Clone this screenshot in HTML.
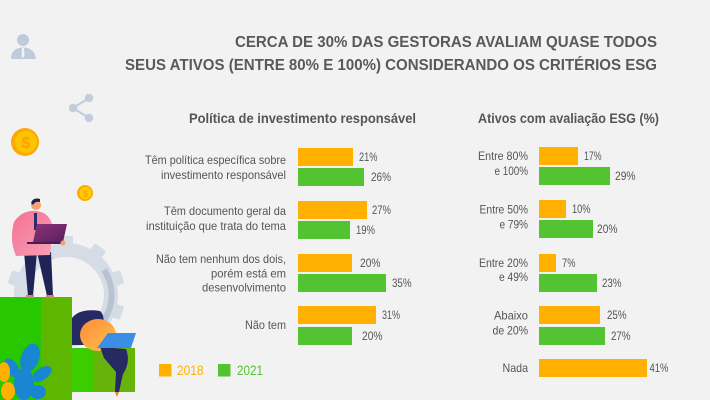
<!DOCTYPE html>
<html><head><meta charset="utf-8"><style>
html,body{margin:0;padding:0;background:#f2f2f2;}
svg{display:block;}
text{font-family:"Liberation Sans",sans-serif;fill:#555;}
.t{font-weight:bold;font-size:16px;fill:#595959;}
.s{font-weight:bold;font-size:14px;fill:#555;}
.l{font-size:12px;fill:#555;}
.p{font-size:11.5px;fill:#555;}
</style></head><body>
<svg width="710" height="400" viewBox="0 0 710 400" xmlns="http://www.w3.org/2000/svg">
<defs>
<linearGradient id="og" x1="0" y1="0" x2="1" y2="1"><stop offset="0" stop-color="#ff8a3c"/><stop offset="1" stop-color="#ffc34a"/></linearGradient>
<linearGradient id="pg" x1="0" y1="0" x2="1" y2="1"><stop offset="0" stop-color="#f56f94"/><stop offset="1" stop-color="#f8a0b4"/></linearGradient>
<linearGradient id="lg" x1="0" y1="0" x2="1" y2="1"><stop offset="0" stop-color="#8a3478"/><stop offset="1" stop-color="#5a1f5e"/></linearGradient>
</defs>
<rect width="710" height="400" fill="#f2f2f2"/>

<!-- icons -->
<g fill="#bfcbdb">
<circle cx="23" cy="40" r="6"/>
<path d="M11 59 Q11 48 23 47.5 Q35 48 36 59 Z"/>
</g>
<path d="M22 48 L24 48 L24.5 56 L23 58 L21.5 56 Z" fill="#f2f2f2"/>
<g stroke="#c2cddc" stroke-width="2" fill="#c2cddc">
<line x1="73" y1="108" x2="89" y2="98"/><line x1="73" y1="108" x2="89" y2="118"/>
<circle cx="89" cy="98" r="4.2" stroke="none"/><circle cx="73" cy="108" r="4.2" stroke="none"/><circle cx="89" cy="118" r="4.2" stroke="none"/>
</g>
<circle cx="25" cy="142" r="14" fill="#ffa800"/>
<circle cx="26" cy="142" r="11" fill="#ffc400"/>
<text x="26" y="148" text-anchor="middle" style="font-size:16px;font-weight:bold;fill:#ffa000">$</text>
<circle cx="85" cy="193" r="8" fill="#ffaa00"/>
<circle cx="85.5" cy="193" r="6" fill="#ffcc00"/>
<text x="85.5" y="197" text-anchor="middle" style="font-size:9px;font-weight:bold;fill:#ffa000">$</text>

<!-- gear -->
<g fill="#d5dce5">
<circle cx="66" cy="295" r="45" fill="none" stroke="#d5dce5" stroke-width="14"/>
<g transform="translate(66 295)">
<rect x="-7" y="-59" width="14" height="12" rx="2"/>
<rect x="-7" y="-59" width="14" height="12" rx="2" transform="rotate(36)"/>
<rect x="-7" y="-59" width="14" height="12" rx="2" transform="rotate(72)"/>
<rect x="-7" y="-59" width="14" height="12" rx="2" transform="rotate(108)"/>
<rect x="-7" y="-59" width="14" height="12" rx="2" transform="rotate(-36)"/>
<rect x="-7" y="-59" width="14" height="12" rx="2" transform="rotate(-72)"/>
<rect x="-7" y="-59" width="14" height="12" rx="2" transform="rotate(-108)"/>
</g>
</g>
<path d="M104 270 A45 45 0 0 1 104 320" fill="none" stroke="#b8c3d0" stroke-width="6"/>

<!-- big block -->
<rect x="0" y="297" width="41" height="103" fill="#27c800"/>
<rect x="41" y="297" width="31" height="103" fill="#5db600"/>
<!-- small block -->
<rect x="72" y="348" width="21" height="44" fill="#3ccd00"/>
<rect x="93" y="348" width="42" height="44" fill="#66b40a"/>

<!-- leaves -->
<g fill="#1a86d1">
<ellipse cx="30" cy="358" rx="9" ry="15" transform="rotate(20 30 358)"/>
<ellipse cx="42" cy="374" rx="6" ry="11" transform="rotate(55 42 374)"/>
<ellipse cx="12" cy="368" rx="6" ry="11" transform="rotate(-35 12 368)"/>
<ellipse cx="38" cy="392" rx="8" ry="7"/>
<ellipse cx="24" cy="384" rx="10" ry="16"/>
</g>
<g fill="#ffb000">
<ellipse cx="4" cy="372" rx="6" ry="10"/>
<ellipse cx="8" cy="391" rx="7" ry="9"/>
</g>

<!-- man -->
<path d="M24 252 L37 252 L33 296 L28 296 Z" fill="#1f2355"/>
<path d="M37 252 L51 252 L53 296 L47 296 Z" fill="#1f2355"/>
<rect x="26" y="295" width="8" height="3" fill="#e07a7a"/>
<rect x="46" y="295" width="8" height="3" fill="#e07a7a"/>
<path d="M14 222 Q22 210 36 211 Q50 212 53 228 L50 255 L16 256 Q9 240 14 222 Z" fill="url(#pg)"/>
<path d="M34 213 L37 213 L37 230 L34 230 Z" fill="#24306a"/>
<circle cx="36" cy="205" r="5" fill="#f5a36b"/>
<path d="M31 203 Q33 197 40 199 L40 202 Q35 201 33 205 Z" fill="#1c2150"/>
<path d="M37 224 L67 224 L63 242 L33 242 Z" fill="url(#lg)"/>
<rect x="27" y="242" width="36" height="2" fill="#4a1a50"/>
<circle cx="63" cy="243" r="2.5" fill="#f5a36b"/>

<!-- woman -->
<path d="M72 318 Q80 308 100 311 Q106 316 102 330 L90 345 L72 345 Z" fill="#262a62"/>
<ellipse cx="98" cy="335" rx="18" ry="16" fill="url(#og)"/>
<path d="M100 347 L126 349 Q131 362 123 374 L119 392 L115 392 L116 372 L104 358 Z" fill="#262a62"/>
<path d="M108 333 L136 333 L131 348 L97 348 Z" fill="#3a8ee6"/>
<path d="M115 392 L119 392 L117 397 Z" fill="#ff7a2a"/>

<!-- title -->
<text class="t" x="235" y="47" textLength="422" lengthAdjust="spacingAndGlyphs">CERCA DE 30% DAS GESTORAS AVALIAM QUASE TODOS</text>
<text class="t" x="125" y="70" textLength="532" lengthAdjust="spacingAndGlyphs">SEUS ATIVOS (ENTRE 80% E 100%) CONSIDERANDO OS CRITÉRIOS ESG</text>

<!-- subtitles -->
<text class="s" x="189" y="123" textLength="227" lengthAdjust="spacingAndGlyphs">Política de investimento responsável</text>
<text class="s" x="478" y="123" textLength="181" lengthAdjust="spacingAndGlyphs">Ativos com avaliação ESG (%)</text>

<!-- left labels -->
<text class="l" x="145" y="164" textLength="141" lengthAdjust="spacingAndGlyphs">Têm política específica sobre</text>
<text class="l" x="161" y="179" textLength="125" lengthAdjust="spacingAndGlyphs">investimento responsável</text>
<text class="l" x="164" y="215" textLength="122" lengthAdjust="spacingAndGlyphs">Têm documento geral da</text>
<text class="l" x="146" y="230" textLength="140" lengthAdjust="spacingAndGlyphs">instituição que trata do tema</text>
<text class="l" x="156" y="263" textLength="130" lengthAdjust="spacingAndGlyphs">Não tem nenhum dos dois,</text>
<text class="l" x="211" y="277.5" textLength="75" lengthAdjust="spacingAndGlyphs">porém está em</text>
<text class="l" x="202" y="291.5" textLength="84" lengthAdjust="spacingAndGlyphs">desenvolvimento</text>
<text class="l" x="245" y="329" textLength="41" lengthAdjust="spacingAndGlyphs">Não tem</text>

<!-- left bars -->
<g fill="#ffb000">
<rect x="298" y="148" width="55" height="18"/>
<rect x="298" y="201" width="69" height="18"/>
<rect x="298" y="254" width="54" height="18"/>
<rect x="298" y="306" width="78" height="18"/>
</g>
<g fill="#53c332">
<rect x="298" y="168" width="66" height="18"/>
<rect x="298" y="221" width="52" height="18"/>
<rect x="298" y="274" width="88" height="18"/>
<rect x="298" y="327" width="54" height="18"/>
</g>
<text class="p" x="359" y="161" textLength="18.5" lengthAdjust="spacingAndGlyphs">21%</text>
<text class="p" x="371" y="181" textLength="20" lengthAdjust="spacingAndGlyphs">26%</text>
<text class="p" x="372" y="214" textLength="19" lengthAdjust="spacingAndGlyphs">27%</text>
<text class="p" x="356" y="234" textLength="19" lengthAdjust="spacingAndGlyphs">19%</text>
<text class="p" x="360" y="267" textLength="20.5" lengthAdjust="spacingAndGlyphs">20%</text>
<text class="p" x="392" y="287" textLength="19.5" lengthAdjust="spacingAndGlyphs">35%</text>
<text class="p" x="382" y="319" textLength="18" lengthAdjust="spacingAndGlyphs">31%</text>
<text class="p" x="362" y="340" textLength="20.5" lengthAdjust="spacingAndGlyphs">20%</text>

<!-- legend -->
<rect x="159" y="364" width="12.5" height="12.5" fill="#ffb000"/>
<text x="177" y="375" textLength="26.5" lengthAdjust="spacingAndGlyphs" style="font-size:13.5px;fill:#ffb000">2018</text>
<rect x="218" y="364" width="12.5" height="12.5" fill="#53c332"/>
<text x="237" y="375" textLength="26" lengthAdjust="spacingAndGlyphs" style="font-size:13.5px;fill:#53c332">2021</text>

<!-- right labels -->
<text class="l" x="478" y="160" textLength="50" lengthAdjust="spacingAndGlyphs">Entre 80%</text>
<text class="l" x="494.5" y="175" textLength="33.5" lengthAdjust="spacingAndGlyphs">e 100%</text>
<text class="l" x="479.5" y="213.5" textLength="48.5" lengthAdjust="spacingAndGlyphs">Entre 50%</text>
<text class="l" x="499.5" y="228.5" textLength="28.5" lengthAdjust="spacingAndGlyphs">e 79%</text>
<text class="l" x="479" y="267" textLength="49" lengthAdjust="spacingAndGlyphs">Entre 20%</text>
<text class="l" x="499" y="281" textLength="29" lengthAdjust="spacingAndGlyphs">e 49%</text>
<text class="l" x="494" y="319.5" textLength="34" lengthAdjust="spacingAndGlyphs">Abaixo</text>
<text class="l" x="492.5" y="334.5" textLength="35.5" lengthAdjust="spacingAndGlyphs">de 20%</text>
<text class="l" x="502.5" y="372" textLength="25.5" lengthAdjust="spacingAndGlyphs">Nada</text>

<!-- right bars -->
<g fill="#ffb000">
<rect x="539" y="147" width="39" height="18"/>
<rect x="539" y="200" width="27" height="18"/>
<rect x="539" y="254" width="17" height="18"/>
<rect x="539" y="306" width="61" height="18"/>
<rect x="539" y="359" width="108" height="18"/>
</g>
<g fill="#53c332">
<rect x="539" y="167" width="71" height="18"/>
<rect x="539" y="220" width="54" height="18"/>
<rect x="539" y="274" width="58" height="18"/>
<rect x="539" y="327" width="66" height="18"/>
</g>
<text class="p" x="584" y="160" textLength="17.5" lengthAdjust="spacingAndGlyphs">17%</text>
<text class="p" x="615" y="180" textLength="20.5" lengthAdjust="spacingAndGlyphs">29%</text>
<text class="p" x="572" y="213" textLength="18.5" lengthAdjust="spacingAndGlyphs">10%</text>
<text class="p" x="597" y="233" textLength="20.5" lengthAdjust="spacingAndGlyphs">20%</text>
<text class="p" x="562" y="267" textLength="13.5" lengthAdjust="spacingAndGlyphs">7%</text>
<text class="p" x="602" y="287" textLength="19.5" lengthAdjust="spacingAndGlyphs">23%</text>
<text class="p" x="607" y="319" textLength="19.5" lengthAdjust="spacingAndGlyphs">25%</text>
<text class="p" x="611" y="340" textLength="19.5" lengthAdjust="spacingAndGlyphs">27%</text>
<text class="p" x="649.5" y="372" textLength="19" lengthAdjust="spacingAndGlyphs">41%</text>
</svg>
</body></html>
